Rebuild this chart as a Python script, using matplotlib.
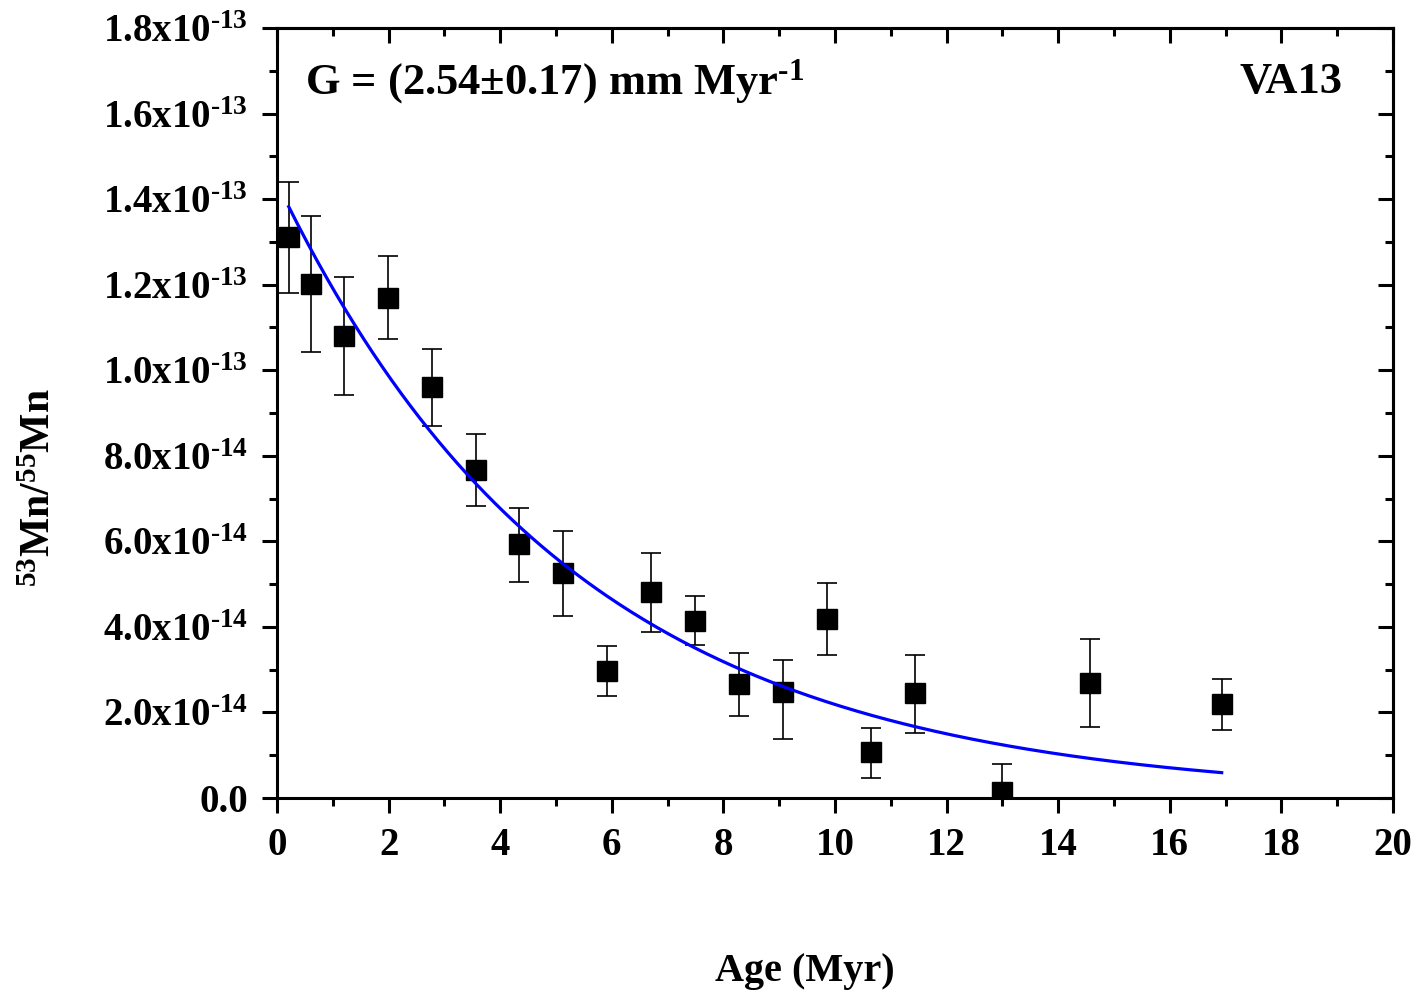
import numpy as np
import matplotlib
matplotlib.use('Agg')
import matplotlib.pyplot as plt
from matplotlib.ticker import MultipleLocator

plt.rcParams['font.family'] = ['Liberation Serif', 'DejaVu Serif']
plt.rcParams['font.weight'] = 'bold'
plt.rcParams['mathtext.fontset'] = 'custom'
plt.rcParams['mathtext.rm'] = 'Liberation Serif:bold'
plt.rcParams['mathtext.bf'] = 'Liberation Serif:bold'
plt.rcParams['mathtext.it'] = 'Liberation Serif:bold'

# sample VA13 data (age in Myr, ratio in units of 1e-14)
age = [0.21, 0.61, 1.20, 1.99, 2.78, 3.57, 4.34, 5.13, 5.91, 6.70,
       7.49, 8.28, 9.07, 9.86, 10.65, 11.43, 12.99, 14.57, 16.93]
ratio = [13.11, 12.01, 10.80, 11.69, 9.61, 7.67, 5.94, 5.26, 2.97, 4.82,
         4.14, 2.66, 2.48, 4.18, 1.08, 2.45, 0.14, 2.69, 2.20]
err_hi = [14.40, 13.60, 12.18, 12.67, 10.50, 8.51, 6.78, 6.24, 3.55, 5.73,
          4.72, 3.39, 3.23, 5.03, 1.64, 3.34, 0.79, 3.72, 2.78]
err_lo = [11.80, 10.43, 9.42, 10.73, 8.70, 6.83, 5.05, 4.25, 2.38, 3.88,
          3.58, 1.92, 1.38, 3.34, 0.47, 1.52, -0.51, 1.66, 1.59]

# decay fit: N0 * 2^(-t / T_half)
fit_n0 = 14.38
fit_half_life = 3.68
fit_start, fit_end = 0.21, 16.93

scale = 1e-14
y = np.array(ratio) * scale
yerr = [(np.array(ratio) - np.array(err_lo)) * scale,
        (np.array(err_hi) - np.array(ratio)) * scale]

fig = plt.figure(figsize=(14.18, 9.94), dpi=100)
ax = fig.add_axes([277/1418, 1 - 798/994, (1393-277)/1418, (798-28)/994])

ax.errorbar(age, y, yerr=yerr, fmt='s', color='black', ms=14,
            ecolor='black', elinewidth=1.2, capsize=7, capthick=1.2, zorder=3)

t = np.linspace(fit_start, fit_end, 300)
ax.plot(t, fit_n0 * scale * 2 ** (-t / fit_half_life), color='#0000ff', lw=2.3, zorder=4)

ax.set_xlim(0, 20)
ax.set_ylim(0, 1.8e-13)
ax.xaxis.set_major_locator(MultipleLocator(2))
ax.xaxis.set_minor_locator(MultipleLocator(1))
ax.yaxis.set_minor_locator(MultipleLocator(1e-14))

yt = np.arange(0, 10) * 2e-14
ylabels = ['0.0']
for v in yt[1:]:
    e = int(np.floor(np.log10(v) + 1e-9))
    m = v / 10**e
    ylabels.append('%.1fx10$^{\\text{-%d}}$' % (m, -e))
ax.set_yticks(yt)
ax.set_yticklabels(ylabels)

for s in ax.spines.values():
    s.set_linewidth(2.2)

ax.tick_params(axis='both', which='major', direction='out', length=11, width=2.2,
               labelsize=28, pad=10)
ax.tick_params(axis='both', which='minor', direction='out', length=5.5, width=2.2)
ax.tick_params(axis='x', which='both', top=False)
ax.tick_params(axis='y', which='both', right=False)

# top and right ticks point inward
axt = ax.secondary_xaxis('top')
axt.xaxis.set_major_locator(MultipleLocator(2))
axt.xaxis.set_minor_locator(MultipleLocator(1))
axt.tick_params(which='major', direction='in', length=11, width=2.2, labeltop=False)
axt.tick_params(which='minor', direction='in', length=5.5, width=2.2)
axr = ax.secondary_yaxis('right')
axr.yaxis.set_major_locator(MultipleLocator(2e-14))
axr.yaxis.set_minor_locator(MultipleLocator(1e-14))
axr.tick_params(which='major', direction='in', length=11, width=2.2, labelright=False)
axr.tick_params(which='minor', direction='in', length=5.5, width=2.2)
for s in list(axt.spines.values()) + list(axr.spines.values()):
    s.set_linewidth(2.2)

for lab in ax.get_xticklabels() + ax.get_yticklabels():
    lab.set_fontweight('bold')

ax.text(0.025, 0.93, 'G = (2.54\u00b10.17) mm Myr$^{\\text{-1}}$', transform=ax.transAxes,
        fontsize=32, fontweight='bold', ha='left', va='center')
ax.text(0.955, 0.93, 'VA13', transform=ax.transAxes,
        fontsize=32, fontweight='bold', ha='right', va='center')

fig.text(40/1418, 1 - 488/994, '$^{53}$Mn/$^{55}$Mn', rotation=90,
         fontsize=30, fontweight='bold', ha='center', va='center')
fig.text(805/1418, 1 - 972/994, 'Age (Myr)', fontsize=29, fontweight='bold',
         ha='center', va='center')

fig.savefig('out.png', dpi=100)
